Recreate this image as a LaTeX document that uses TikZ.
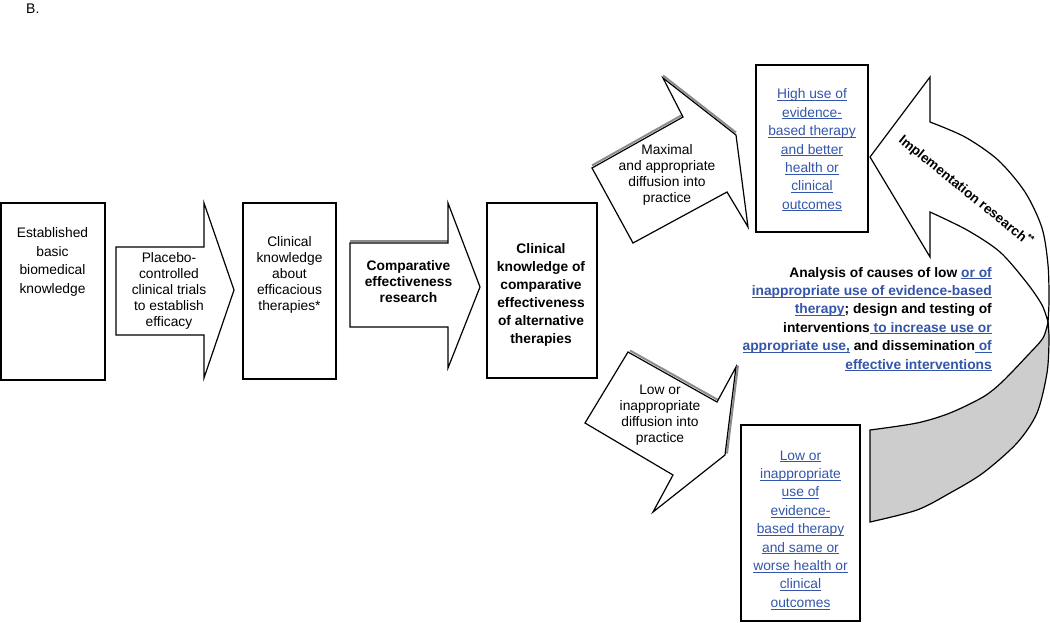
\documentclass[tikz,border=0pt]{standalone}
\usepackage{fontspec}
\setmainfont{Liberation Sans}
\usetikzlibrary{positioning}
\definecolor{linkblue}{RGB}{51,85,170}
\definecolor{backgrey}{RGB}{205,205,205}
\newcommand{\lk}[1]{\textcolor{linkblue}{\underline{\raisebox{0pt}[\height][0pt]{#1}}}}

\begin{document}
\begin{tikzpicture}[x=1pt, y=-1pt,
  box/.style={draw=black, line width=1.2pt, inner sep=0pt},
  blockarrow/.style={draw=black, line width=1.2pt, fill=white, line join=miter},
  shadowline/.style={draw=black!45, line width=2pt},
  txt/.style={align=center, inner sep=0pt, font=\fontsize{13.8}{16}\selectfont},
  bluetxt/.style={txt, font=\fontsize{13.8}{18.4}\selectfont},
  boldtxt/.style={txt, font=\bfseries\fontsize{13.8}{18}\selectfont}]
  \useasboundingbox (0,0) rectangle (1050,622);

  \node[anchor=base west, inner sep=0pt, font=\fontsize{14}{16}\selectfont] (panel) at (26,13) {B.};

  % curved implementation arrow, back side first
  \draw[blockarrow, fill=backgrey] plot[smooth] coordinates {(1048,322) (1043,338) (1028,355) (1002,382) (983,397) (950,413) (917,423) (870,430)}
    -- (870,522) -- plot[smooth] coordinates {(870,522) (917,510) (950,493) (983,473) (1017,443) (1037,413) (1047,373) (1049,340) (1048,322)} -- cycle;
  \draw[blockarrow] (870,157) -- (930,77) -- (930,122)
    -- plot[smooth] coordinates {(930,122) (965,137) (998,160) (1025,192) (1042,228) (1048,265) (1049,300) (1048,322)}
    -- plot[smooth] coordinates {(1048,322) (1042,305) (1027,283) (1000,252) (967,230) (930,212)}
    -- (930,257) -- cycle;
  \node[inner sep=0pt, rotate=-39, font=\bfseries\fontsize{13.5}{16}\selectfont] (implT) at (966,191) {Implementation research\textsuperscript{**}};

  % boxes
  \node[box, minimum width=104pt, minimum height=177pt] (basic) at (53,291.5) {};
  \node[box, minimum width=93pt, minimum height=176pt] (effic) at (289.5,291) {};
  \node[box, minimum width=110pt, minimum height=175pt] (alt) at (542,290.5) {};
  \node[box, minimum width=112pt, minimum height=167pt] (high) at (812,148.5) {};
  \node[box, minimum width=119pt, minimum height=196pt] (lowuse) at (800.5,523) {};

  % block arrows
  \draw[blockarrow] (116,247) -- (204,247) -- (204,203) -- (234,290) -- (204,378) -- (204,335) -- (116,335) -- cycle;
  \draw[shadowline] (350,240.5) -- (448,240.5);
  \draw[blockarrow] (350,243) -- (448,243) -- (448,203) -- (480,287) -- (448,368) -- (448,327) -- (350,327) -- cycle;
  \draw[shadowline] (592,165.5) -- (683,114.5) (663,75.5) -- (736,132.5);
  \draw[blockarrow] (592,168) -- (683,117) -- (663,78) -- (736,135) -- (748,227) -- (727,192) -- (633,243) -- cycle;
  \draw[shadowline] (630,350.5) -- (719,400.5) (738,365.5) -- (727,453.5);
  \draw[blockarrow] (628,352) -- (717,402) -- (736,367) -- (725,455) -- (653,512) -- (673,475) -- (585,423) -- cycle;

  % texts
  \node[txt, font=\fontsize{13.8}{18.6}\selectfont] (basicT) at (52.5,262) {Established\\basic\\biomedical\\knowledge};
  \node[txt] (trialsT) at (169,290.5) {Placebo-\\controlled\\clinical trials\\to establish\\efficacy};
  \node[txt] (efficT) at (289.5,275) {Clinical\\knowledge\\about\\efficacious\\therapies*};
  \node[boldtxt, font=\bfseries\fontsize{13.8}{16}\selectfont] (compT) at (408.5,282) {Comparative\\effectiveness\\research};
  \node[boldtxt] (altT) at (541,295) {Clinical\\knowledge of\\comparative\\effectiveness\\of alternative\\therapies};
  \node[txt] (maxT) at (667,174.5) {Maximal\\and appropriate\\diffusion into\\practice};
  \node[bluetxt] (highT) at (812,150) {\lk{High use of}\\\lk{evidence-}\\\lk{based therapy}\\\lk{and better}\\\lk{health or}\\\lk{clinical}\\\lk{outcomes}};
  \node[txt] (lowT) at (660,415.5) {Low or\\inappropriate\\diffusion into\\practice};
  \node[bluetxt] (lowuseT) at (800.5,530) {\lk{Low or}\\\lk{inappropriate}\\\lk{use of}\\\lk{evidence-}\\\lk{based therapy}\\\lk{and same or}\\\lk{worse health or}\\\lk{clinical}\\\lk{outcomes}};
  \node[boldtxt, align=right, anchor=east, font=\bfseries\fontsize{13.8}{18.4}\selectfont] (causesT) at (992,319) {Analysis of causes of low \lk{or of}\\
    \lk{inappropriate use of evidence-based}\\
    \lk{therapy}; design and testing of\\
    interventions\lk{ to increase use or}\\
    \lk{appropriate use,} and dissemination\lk{ of}\\
    \lk{effective interventions}};
\end{tikzpicture}
\end{document}
